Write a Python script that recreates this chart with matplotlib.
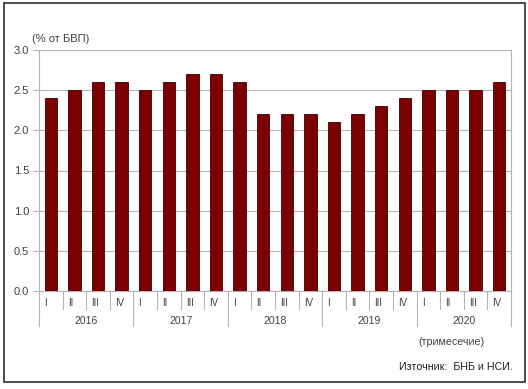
import matplotlib
matplotlib.use('Agg')
import matplotlib.pyplot as plt
from matplotlib.patches import Rectangle

plt.rcParams['font.family'] = ['Liberation Sans', 'DejaVu Sans']

years = ['2016', '2017', '2018', '2019', '2020']
quarters = ['I', 'II', 'III', 'IV']
values = [2.4, 2.5, 2.6, 2.6,
          2.5, 2.6, 2.7, 2.7,
          2.6, 2.2, 2.2, 2.2,
          2.1, 2.2, 2.3, 2.4,
          2.5, 2.5, 2.5, 2.6]
yticks = [0.0, 0.5, 1.0, 1.5, 2.0, 2.5, 3.0]

W, H = 528, 389
fig = plt.figure(figsize=(W / 100, H / 100), dpi=100)
ax = fig.add_axes([39 / W, 1 - 291 / H, (511 - 39) / W, (291 - 50) / H])

txt = '#404040'
grid = '#b4b4b4'

x = list(range(len(values)))
ax.bar(x, values, width=0.52, color='#7d0000', edgecolor='#3a0000', linewidth=0.6, zorder=3)

ax.set_xlim(-0.5, len(values) - 0.5)
ax.set_ylim(0, 3)
ax.set_yticks(yticks)
ax.set_yticklabels(['%.1f' % v for v in yticks], fontsize=8, color=txt)
ax.yaxis.grid(True, color=grid, linewidth=0.8, zorder=0)
ax.tick_params(axis='y', length=4, color=grid, pad=3)
ax.set_xticks([])
for s in ax.spines.values():
    s.set_color(grid)
    s.set_linewidth(0.8)

# category axis: separators and labels
tr = ax.get_xaxis_transform()
ph = 291 - 50
for i in range(len(values) + 1):
    xs = i - 0.5
    depth = 35 if i % 4 == 0 else 18
    ax.plot([xs, xs], [0, -depth / ph], transform=tr, color=grid, lw=0.8, clip_on=False)
for i, v in enumerate(values):
    ax.text(i - 0.5 + 0.22, -12 / ph, quarters[i % 4], transform=tr,
            ha='left', va='center', fontsize=7, color=txt)
for k, yr in enumerate(years):
    ax.text(4 * k + 1.5, -30 / ph, yr, transform=tr,
            ha='center', va='center', fontsize=7.5, color=txt)

fig.text(32 / W, 1 - 39 / H, '(% от БВП)', fontsize=8, color=txt, va='center', ha='left')
fig.text(451 / W, 1 - 342 / H, '(тримесечие)', fontsize=7.7, color=txt, va='center', ha='center')
fig.text(513 / W, 1 - 367 / H, 'Източник:  БНБ и НСИ.', fontsize=7.7, color='#202020', va='center', ha='right')

# outer frame
fig.patches.append(Rectangle((4 / W, 1 - 382 / H), 521 / W, 379 / H, transform=fig.transFigure,
                             fill=False, edgecolor='#303030', linewidth=1.2))

fig.savefig('out.png', dpi=100)
